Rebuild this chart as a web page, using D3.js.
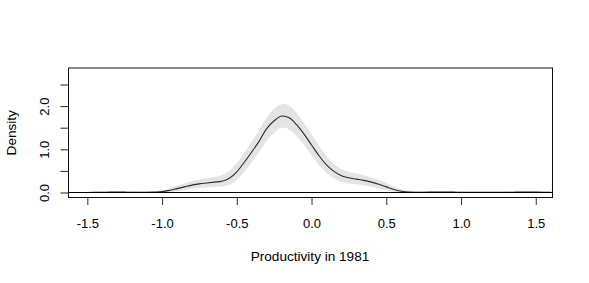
<!DOCTYPE html>
<html>
<head>
<meta charset="utf-8">
<script src="https://cdn.jsdelivr.net/npm/d3@7"></script>
<style>
html,body{margin:0;padding:0;background:#fff;}
svg{display:block;}
text{font-family:"Liberation Sans",Arial,sans-serif;fill:#000;}
</style>
</head>
<body>
<svg id="chart" width="589" height="283"></svg>
<script>
// ---- data ----
const xGrid = [-1.60,-1.55,-1.50,-1.45,-1.40,-1.35,-1.30,-1.25,-1.20,-1.15,-1.10,-1.05,-1.00,-0.95,-0.90,-0.85,-0.80,-0.75,-0.70,-0.65,-0.60,-0.55,-0.50,-0.45,-0.40,-0.35,-0.30,-0.25,-0.20,-0.15,-0.10,-0.05,0.00,0.05,0.10,0.15,0.20,0.25,0.30,0.35,0.40,0.45,0.50,0.55,0.60,0.65,0.70,0.75,0.80,0.85,0.90,0.95,1.00,1.05,1.10,1.15,1.20,1.25,1.30,1.35,1.40,1.45,1.50,1.55,1.60];
const density = [0.000,0.000,0.000,0.002,0.004,0.010,0.012,0.008,0.004,0.003,0.005,0.010,0.020,0.050,0.090,0.130,0.170,0.200,0.220,0.240,0.260,0.330,0.480,0.700,0.940,1.190,1.480,1.660,1.770,1.730,1.570,1.350,1.100,0.850,0.640,0.490,0.390,0.340,0.310,0.280,0.240,0.190,0.130,0.070,0.030,0.010,0.005,0.005,0.008,0.012,0.012,0.008,0.003,0.002,0.002,0.002,0.002,0.002,0.003,0.006,0.010,0.012,0.008,0.004,0.002];
const lower = [0.000,0.000,0.000,0.000,0.000,0.000,0.000,0.000,0.000,0.000,0.000,0.000,0.000,0.010,0.030,0.060,0.090,0.110,0.120,0.130,0.140,0.180,0.290,0.480,0.700,0.940,1.200,1.380,1.500,1.460,1.310,1.100,0.860,0.630,0.450,0.330,0.250,0.210,0.190,0.160,0.130,0.090,0.050,0.020,0.005,0.000,0.000,0.000,0.000,0.000,0.000,0.000,0.000,0.000,0.000,0.000,0.000,0.000,0.000,0.000,0.000,0.000,0.000,0.000,0.000];
const upper = [0.012,0.012,0.014,0.018,0.022,0.030,0.032,0.028,0.022,0.020,0.025,0.035,0.050,0.100,0.160,0.210,0.260,0.300,0.330,0.360,0.400,0.500,0.680,0.920,1.180,1.440,1.740,1.940,2.050,2.010,1.840,1.610,1.350,1.080,0.840,0.660,0.540,0.480,0.440,0.400,0.350,0.290,0.220,0.140,0.080,0.040,0.025,0.025,0.030,0.035,0.035,0.030,0.020,0.015,0.015,0.015,0.015,0.015,0.020,0.025,0.030,0.032,0.028,0.020,0.015];
const xTicks = [-1.5,-1.0,-0.5,0.0,0.5,1.0,1.5];
const yTicks = [0.0,0.5,1.0,1.5,2.0,2.5];
const yLabelTicks = [0.0,1.0,2.0];
const xTitle = "Productivity in 1981";
const yTitle = "Density";

// ---- layout ----
const svg = d3.select("#chart");
const box = {left:68.5, right:552.5, top:68, bottom:197.5};
const x = d3.scaleLinear().domain([-1.626, 1.612]).range([box.left, box.right]);
const y = d3.scaleLinear().domain([-0.116, 2.882]).range([box.bottom, box.top]);

const rows = xGrid.map((v,i)=>({x:v, d:density[i], lo:lower[i], hi:upper[i]}));

svg.append("defs").append("clipPath").attr("id","clip")
  .append("rect").attr("x",box.left).attr("y",box.top)
  .attr("width",box.right-box.left).attr("height",box.bottom-box.top);

const g = svg.append("g").attr("clip-path","url(#clip)");

g.append("path").datum(rows)
  .attr("fill","#e4e4e4").attr("stroke","none")
  .attr("d", d3.area().curve(d3.curveCatmullRom)
    .x(r=>x(r.x)).y0(r=>y(r.lo)).y1(r=>y(r.hi)));

g.append("path").datum(rows)
  .attr("fill","none").attr("stroke","#2a2a2a").attr("stroke-width",1.1)
  .attr("d", d3.line().curve(d3.curveCatmullRom)
    .x(r=>x(r.x)).y(r=>y(r.d)));

// zero line
svg.append("line")
  .attr("x1",box.left).attr("x2",box.right)
  .attr("y1",y(0)).attr("y2",y(0))
  .attr("stroke","#000").attr("stroke-width",1.2);

// frame
svg.append("rect")
  .attr("x",box.left).attr("y",box.top)
  .attr("width",box.right-box.left).attr("height",box.bottom-box.top)
  .attr("fill","none").attr("stroke","#111").attr("stroke-width",1);

// x axis
const xAxis = d3.axisBottom(x).tickValues(xTicks).tickSize(7.5).tickSizeOuter(0)
  .tickFormat(d3.format(".1f"));
const xg = svg.append("g").attr("transform",`translate(0,${box.bottom})`).call(xAxis);
xg.select(".domain").remove();
xg.selectAll(".tick line").attr("stroke","#333");
xg.selectAll(".tick text").attr("y",null).attr("dy",null)
  .attr("transform","translate(0,30)")
  .style("font-size","13px").style("font-family","'Liberation Sans',Arial,sans-serif")
  .text(d=>d3.format(".1f")(d).replace("−","-"));

// y axis
const yAxis = d3.axisLeft(y).tickValues(yTicks).tickSize(8).tickSizeOuter(0)
  .tickFormat(d=> yLabelTicks.includes(d) ? d3.format(".1f")(d) : "");
const yg = svg.append("g").attr("transform",`translate(${box.left},0)`).call(yAxis);
yg.select(".domain").remove();
yg.selectAll(".tick line").attr("stroke","#222");
yg.selectAll(".tick text")
  .attr("x",null).attr("dy",null)
  .attr("text-anchor","middle")
  .attr("transform","translate(-20,0) rotate(-90)")
  .style("font-size","13px").style("font-family","'Liberation Sans',Arial,sans-serif");

// titles
svg.append("text").attr("x",(box.left+box.right)/2 - 0.5).attr("y",260.5)
  .attr("text-anchor","middle").style("font-size","13.6px").text(xTitle);
svg.append("text")
  .attr("transform",`translate(15.5,${(box.top+box.bottom)/2}) rotate(-90)`)
  .attr("text-anchor","middle").style("font-size","13.6px").text(yTitle);
</script>
</body>
</html>
